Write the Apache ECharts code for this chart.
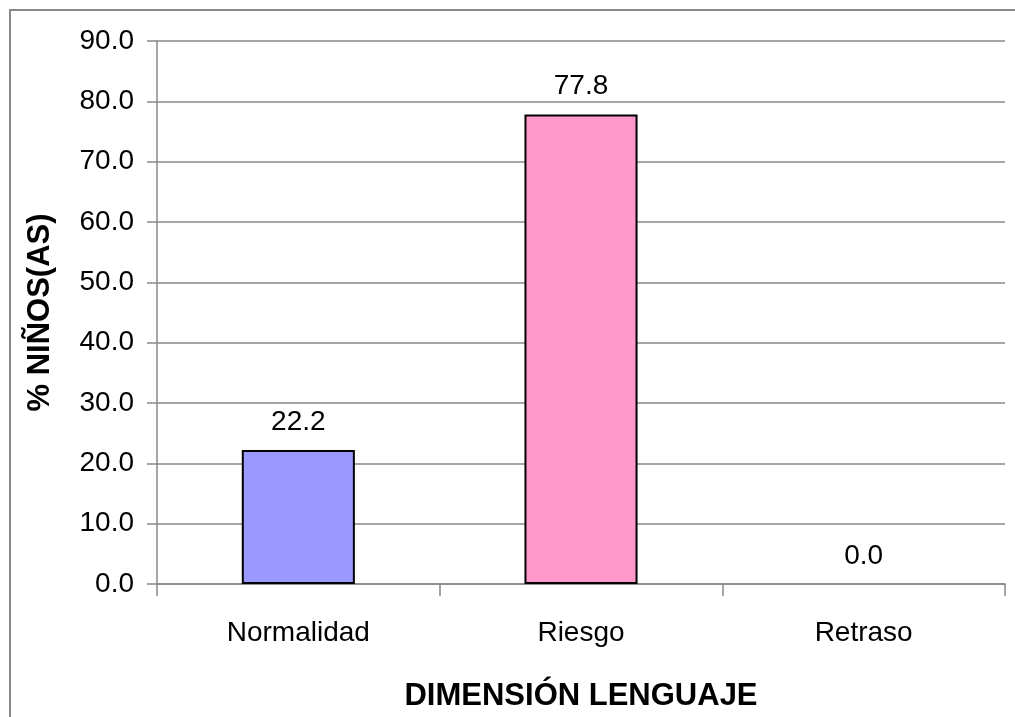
<!DOCTYPE html>
<html>
<head>
<meta charset="utf-8">
<script src="https://cdn.jsdelivr.net/npm/echarts@6/dist/echarts.min.js"></script>
<style>
  html, body { margin: 0; padding: 0; background: #fff; }
  #main { width: 1015px; height: 717px; }
  .frame { position: absolute; left: 9px; top: 9px; width: 1020px; height: 720px; border: 2px solid #888; box-sizing: border-box; pointer-events: none; }
</style>
</head>
<body>
<div id="main"></div>
<div class="frame"></div>
<script>
// chart data
const categories = ["Normalidad", "Riesgo", "Retraso"];
const values = [22.2, 77.8, 0.0];
const barColors = ["#9999FF", "#FF99CC", "#9999FF"];

const font = "Liberation Sans, Arial, sans-serif";
let myChart = echarts.init(document.getElementById("main"));
let option = {
  animation: false,
  grid: { left: 157, right: 10, top: 41, bottom: 130 },
  xAxis: {
    type: "category",
    data: categories,
    name: "DIMENSIÓN LENGUAJE",
    nameLocation: "middle",
    nameGap: 97,
    nameTextStyle: { fontFamily: font, fontSize: 31, fontWeight: "bold", color: "#000" },
    axisLine: { lineStyle: { color: "#888", width: 1.5 } },
    axisTick: { show: true, length: 12, lineStyle: { color: "#888", width: 1.5 } },
    axisLabel: { fontFamily: font, fontSize: 28, color: "#000", margin: 35 },
  },
  yAxis: {
    type: "value",
    min: 0,
    max: 90,
    interval: 10,
    name: "% NIÑOS(AS)",
    nameLocation: "middle",
    nameGap: 101,
    nameTextStyle: { fontFamily: font, fontSize: 31, fontWeight: "bold", color: "#000" },
    axisLine: { show: true, lineStyle: { color: "#888", width: 1.5 } },
    axisTick: { show: true, length: 10, lineStyle: { color: "#888", width: 1.5 } },
    axisLabel: { fontFamily: font, fontSize: 28, color: "#000", margin: 23, formatter: (v) => v.toFixed(1) },
    splitLine: { lineStyle: { color: "#888", width: 1.5 } },
  },
  series: [
    {
      type: "bar",
      barWidth: "40%",
      data: values.map((v, i) => ({
        value: v,
        itemStyle: v === 0 ? { color: barColors[i], borderWidth: 0 } : { color: barColors[i] },
      })),
      itemStyle: { borderColor: "#000", borderWidth: 2 },
      label: {
        show: true,
        position: "top",
        distance: 14,
        fontFamily: font,
        fontSize: 28,
        color: "#000",
        formatter: (p) => p.value.toFixed(1),
      },
    },
  ],
};
myChart.setOption(option);
</script>
</body>
</html>
